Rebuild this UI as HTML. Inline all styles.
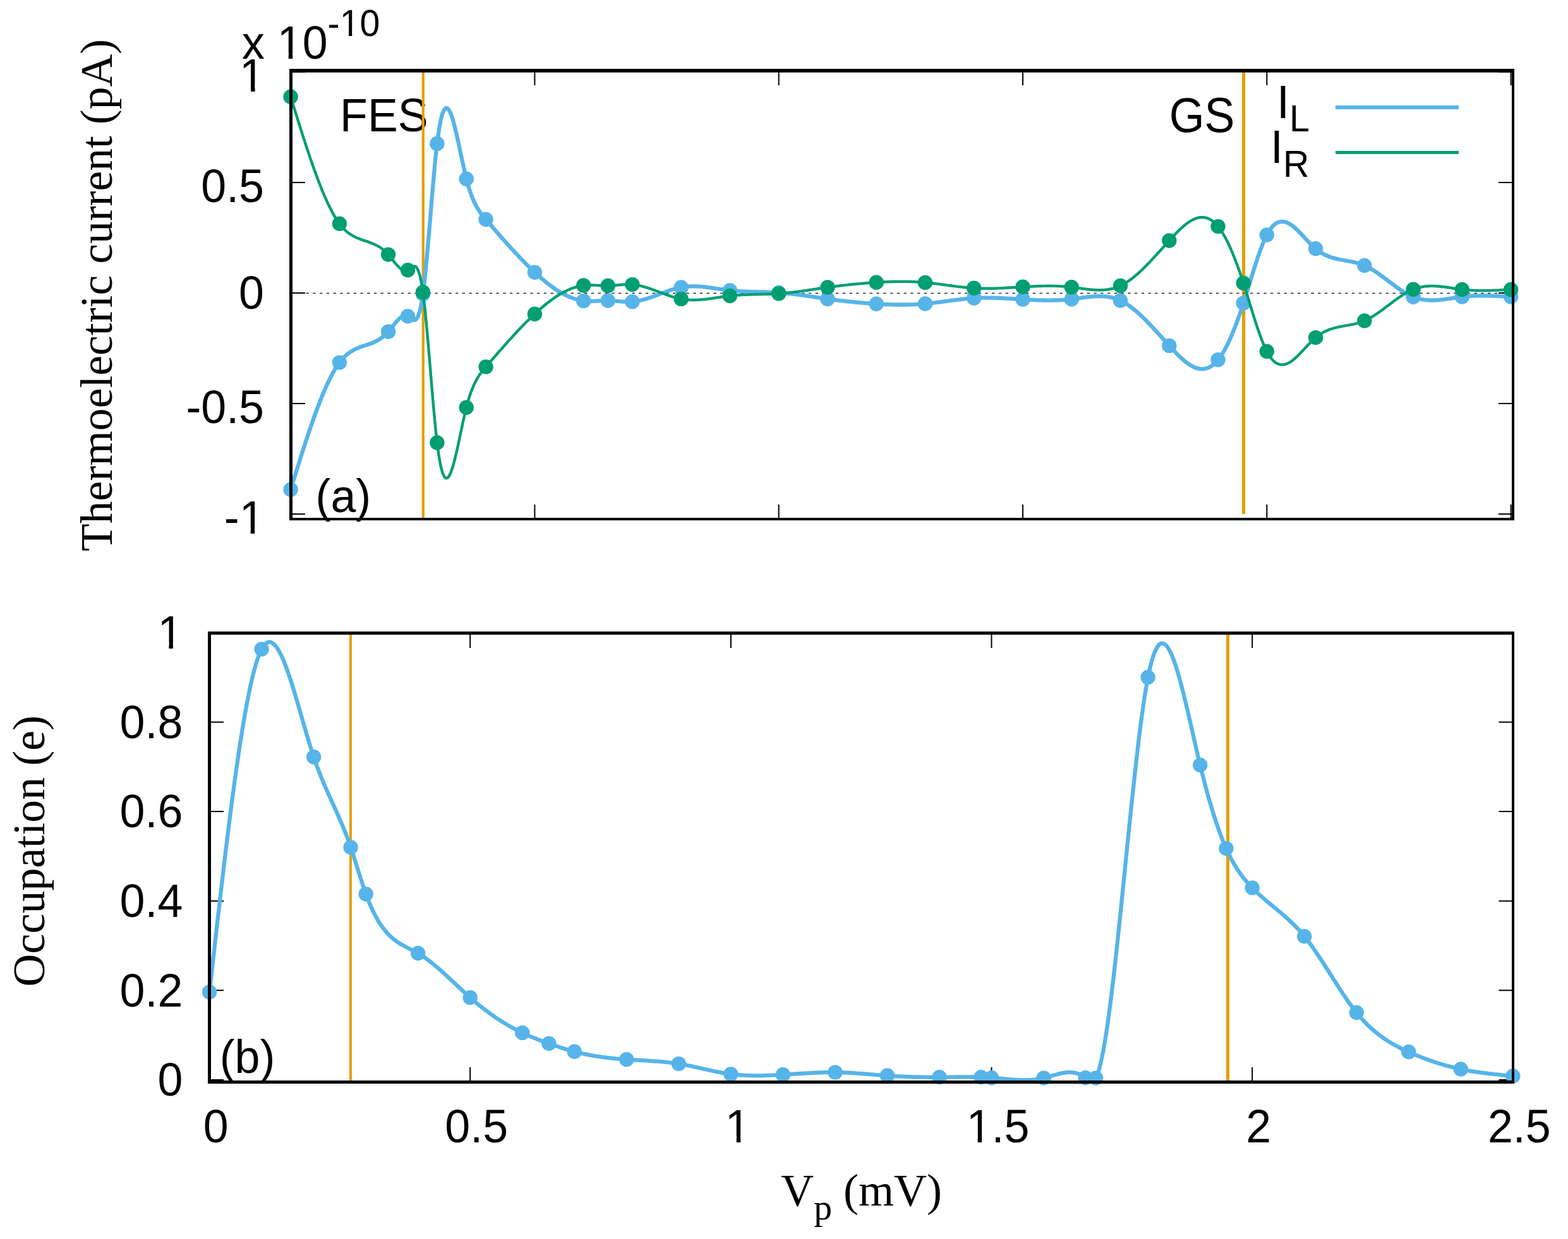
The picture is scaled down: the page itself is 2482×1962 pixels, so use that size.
<!DOCTYPE html><html><head><meta charset="utf-8"><title>Thermoelectric current and occupation</title>
<style>html,body{margin:0;padding:0;background:#fff;overflow:hidden}svg{display:block}text{fill:#000}.s{font-family:"Liberation Sans",sans-serif}.r{font-family:"Liberation Serif",serif}</style></head><body>
<svg width="2482" height="1962" viewBox="0 0 2482 1962" role="img" aria-label="Thermoelectric current and occupation versus plunger gate voltage">
<defs><clipPath id="k5" clipPathUnits="userSpaceOnUse"><path clip-rule="evenodd" d="M-3000,-3000H3000V3000H-3000Z M-42.12,-9.67H-22.74V3.72H-42.12Z M-15.97,-9.67H1.03V3.72H-15.97Z"/></clipPath><clipPath id="k9" clipPathUnits="userSpaceOnUse"><path clip-rule="evenodd" d="M-3000,-3000H3000V3000H-3000Z M-42.12,-9.67H-22.74V3.72H-42.12Z M-15.97,-9.67H1.03V3.72H-15.97Z"/></clipPath><clipPath id="k10" clipPathUnits="userSpaceOnUse"><path clip-rule="evenodd" d="M-3000,-3000H3000V3000H-3000Z M57.12,-9.67H76.50V3.72H57.12Z M83.27,-9.67H100.27V3.72H83.27Z M159.83,-43.23H175.33V-32.52H159.83Z M180.74,-43.23H194.34V-32.52H180.74Z"/></clipPath><clipPath id="k18" clipPathUnits="userSpaceOnUse"><path clip-rule="evenodd" d="M-3000,-3000H3000V3000H-3000Z M-42.12,-9.67H-22.74V3.72H-42.12Z M-15.97,-9.67H1.03V3.72H-15.97Z"/></clipPath><clipPath id="k21" clipPathUnits="userSpaceOnUse"><path clip-rule="evenodd" d="M-3000,-3000H3000V3000H-3000Z M-21.43,-9.67H-2.05V3.72H-21.43Z M4.72,-9.67H21.72V3.72H4.72Z"/></clipPath><clipPath id="k22" clipPathUnits="userSpaceOnUse"><path clip-rule="evenodd" d="M-3000,-3000H3000V3000H-3000Z M-52.46,-9.67H-33.07V3.72H-52.46Z M-26.30,-9.67H-9.30V3.72H-26.30Z"/></clipPath></defs>
<rect width="2482" height="1962" fill="#fff"/>
<g id="top">
<text class="s" transform="translate(538.1,208.0) scale(0.964,1)" font-size="74.4" text-anchor="start">FES</text>
<text class="s" transform="translate(1850.8,208.8) scale(0.964,1.045)" font-size="74.4">GS</text>
<text class="s" transform="translate(499.5,810.5) scale(0.964,1)" font-size="74.4" text-anchor="start">(a)</text>
<line x1="669.8" y1="114" x2="669.8" y2="822" stroke="#E69F00" stroke-width="4.2"/>
<line x1="1968.5" y1="114" x2="1968.5" y2="814.1" stroke="#E69F00" stroke-width="5.1"/>
<line x1="463" y1="464.3" x2="2393" y2="464.3" stroke="#000" stroke-width="1.2" stroke-dasharray="4.3 6.45"/>
<path d="M846.4,114V135 M846.4,822V799 M1232.7,114V135 M1232.7,822V799 M1619.0,114V135 M1619.0,822V799 M2005.3,114V135 M2005.3,822V799 M2391.6,114V135 M2391.6,822V799 M460.5,114.1H483 M2395,114.1H2372 M460.5,289.1H483 M2395,289.1H2372 M460.5,464.0H483 M2395,464.0H2372 M460.5,639.0H483 M2395,639.0H2372 M460.5,813.9H483 M2395,813.9H2372" stroke="#000" stroke-width="2" fill="none"/>
<path d="M460.1,775.2 L462.9,766.3 L465.6,757.3 L468.4,748.4 L471.2,739.6 L473.9,730.8 L476.7,722.0 L479.4,713.4 L482.2,704.8 L485.0,696.3 L487.7,688.0 L490.5,679.8 L493.3,671.7 L496.0,663.9 L498.8,656.1 L501.5,648.6 L504.3,641.3 L507.1,634.2 L509.8,627.3 L512.6,620.6 L515.4,614.2 L518.1,608.1 L520.9,602.3 L523.7,596.8 L526.4,591.5 L529.2,586.6 L531.9,582.0 L534.7,577.8 L537.5,574.0 L540.2,570.5 L543.0,567.3 L545.8,564.5 L548.5,562.0 L551.3,559.7 L554.0,557.7 L556.8,556.0 L559.6,554.4 L562.3,553.0 L565.1,551.7 L567.9,550.6 L570.6,549.5 L573.4,548.5 L576.2,547.6 L578.9,546.7 L581.7,545.8 L584.4,544.8 L587.2,543.8 L590.0,542.7 L592.7,541.5 L595.5,540.2 L598.3,538.7 L601.0,537.1 L603.8,535.2 L606.6,533.1 L609.3,530.7 L612.1,528.0 L614.8,525.1 L617.6,521.8 L620.4,518.3 L623.1,514.8 L625.9,511.3 L628.7,508.1 L631.4,505.2 L634.2,502.8 L636.9,501.0 L639.7,499.9 L642.5,499.7 L645.2,500.6 L648.0,502.4 L650.8,504.6 L653.5,506.5 L656.3,507.0 L659.1,505.4 L661.8,500.8 L664.6,492.5 L667.3,479.4 L670.1,461.0 L672.9,436.8 L675.6,408.3 L678.4,376.8 L681.2,343.8 L683.9,310.6 L686.7,278.8 L689.4,249.6 L692.2,224.7 L695.0,204.8 L697.7,190.0 L700.5,179.6 L703.3,173.5 L706.0,171.0 L708.8,171.9 L711.6,175.8 L714.3,182.1 L717.1,190.6 L719.8,200.8 L722.6,212.4 L725.4,224.8 L728.1,237.8 L730.9,250.9 L733.7,263.7 L736.4,275.8 L739.2,286.8 L741.9,296.6 L744.7,305.1 L747.5,312.5 L750.2,319.0 L753.0,324.7 L755.8,329.7 L758.5,334.0 L761.3,337.9 L764.1,341.5 L766.8,344.8 L769.6,348.0 L772.3,351.2 L775.1,354.4 L777.9,357.6 L780.6,360.8 L783.4,364.0 L786.2,367.2 L788.9,370.4 L791.7,373.5 L794.5,376.7 L797.2,379.8 L800.0,382.9 L802.7,386.0 L805.5,389.1 L808.3,392.1 L811.0,395.2 L813.8,398.2 L816.6,401.1 L819.3,404.1 L822.1,407.0 L824.8,409.9 L827.6,412.8 L830.4,415.6 L833.1,418.4 L835.9,421.1 L838.7,423.8 L841.4,426.5 L844.2,429.1 L847.0,431.7 L849.7,434.3 L852.5,436.7 L855.2,439.2 L858.0,441.6 L860.8,443.9 L863.5,446.2 L866.3,448.4 L869.1,450.5 L871.8,452.6 L874.6,454.6 L877.3,456.6 L880.1,458.5 L882.9,460.3 L885.6,462.0 L888.4,463.6 L891.2,465.2 L893.9,466.6 L896.7,468.0 L899.5,469.3 L902.2,470.5 L905.0,471.6 L907.7,472.6 L910.5,473.5 L913.3,474.3 L916.0,475.0 L918.8,475.6 L921.6,476.1 L924.3,476.5 L927.1,476.7 L929.8,476.9 L932.6,477.0 L935.4,477.0 L938.1,476.9 L940.9,476.8 L943.7,476.7 L946.4,476.5 L949.2,476.4 L952.0,476.2 L954.7,476.1 L957.5,476.0 L960.2,476.0 L963.0,476.0 L965.8,476.1 L968.5,476.3 L971.3,476.5 L974.1,476.7 L976.8,476.9 L979.6,477.2 L982.4,477.4 L985.1,477.6 L987.9,477.8 L990.6,477.9 L993.4,478.0 L996.2,478.0 L998.9,477.9 L1001.7,477.7 L1004.5,477.4 L1007.2,477.1 L1010.0,476.6 L1012.7,476.0 L1015.5,475.3 L1018.3,474.6 L1021.0,473.8 L1023.8,473.0 L1026.6,472.1 L1029.3,471.2 L1032.1,470.2 L1034.9,469.2 L1037.6,468.2 L1040.4,467.1 L1043.1,466.1 L1045.9,465.0 L1048.7,464.0 L1051.4,462.9 L1054.2,461.9 L1057.0,460.9 L1059.7,460.0 L1062.5,459.1 L1065.2,458.2 L1068.0,457.4 L1070.8,456.6 L1073.5,456.0 L1076.3,455.4 L1079.1,454.8 L1081.8,454.4 L1084.6,454.1 L1087.4,453.8 L1090.1,453.6 L1092.9,453.5 L1095.6,453.4 L1098.4,453.4 L1101.2,453.4 L1103.9,453.5 L1106.7,453.7 L1109.5,453.9 L1112.2,454.1 L1115.0,454.4 L1117.7,454.7 L1120.5,455.1 L1123.3,455.4 L1126.0,455.8 L1128.8,456.2 L1131.6,456.6 L1134.3,457.0 L1137.1,457.4 L1139.9,457.8 L1142.6,458.2 L1145.4,458.6 L1148.1,459.0 L1150.9,459.4 L1153.7,459.7 L1156.4,460.0 L1159.2,460.3 L1162.0,460.5 L1164.7,460.8 L1167.5,461.0 L1170.3,461.2 L1173.0,461.3 L1175.8,461.5 L1178.5,461.6 L1181.3,461.7 L1184.1,461.8 L1186.8,461.9 L1189.6,462.0 L1192.4,462.1 L1195.1,462.1 L1197.9,462.2 L1200.6,462.3 L1203.4,462.3 L1206.2,462.4 L1208.9,462.5 L1211.7,462.5 L1214.5,462.6 L1217.2,462.7 L1220.0,462.8 L1222.8,462.9 L1225.5,463.1 L1228.3,463.2 L1231.0,463.4 L1233.8,463.6 L1236.6,463.8 L1239.3,464.0 L1242.1,464.3 L1244.9,464.5 L1247.6,464.8 L1250.4,465.1 L1253.1,465.4 L1255.9,465.7 L1258.7,466.1 L1261.4,466.4 L1264.2,466.8 L1267.0,467.2 L1269.7,467.5 L1272.5,467.9 L1275.3,468.3 L1278.0,468.7 L1280.8,469.1 L1283.5,469.5 L1286.3,469.9 L1289.1,470.4 L1291.8,470.8 L1294.6,471.2 L1297.4,471.6 L1300.1,472.0 L1302.9,472.4 L1305.6,472.8 L1308.4,473.2 L1311.2,473.6 L1313.9,473.9 L1316.7,474.3 L1319.5,474.7 L1322.2,475.0 L1325.0,475.4 L1327.8,475.7 L1330.5,476.1 L1333.3,476.4 L1336.0,476.7 L1338.8,477.0 L1341.6,477.3 L1344.3,477.6 L1347.1,477.9 L1349.9,478.2 L1352.6,478.5 L1355.4,478.7 L1358.2,479.0 L1360.9,479.2 L1363.7,479.5 L1366.4,479.7 L1369.2,479.9 L1372.0,480.1 L1374.7,480.4 L1377.5,480.6 L1380.3,480.7 L1383.0,480.9 L1385.8,481.1 L1388.5,481.3 L1391.3,481.4 L1394.1,481.6 L1396.8,481.7 L1399.6,481.9 L1402.4,482.0 L1405.1,482.1 L1407.9,482.2 L1410.7,482.3 L1413.4,482.4 L1416.2,482.4 L1418.9,482.5 L1421.7,482.5 L1424.5,482.5 L1427.2,482.5 L1430.0,482.5 L1432.8,482.5 L1435.5,482.5 L1438.3,482.4 L1441.0,482.4 L1443.8,482.3 L1446.6,482.2 L1449.3,482.0 L1452.1,481.9 L1454.9,481.7 L1457.6,481.5 L1460.4,481.3 L1463.2,481.1 L1465.9,480.9 L1468.7,480.6 L1471.4,480.3 L1474.2,480.0 L1477.0,479.7 L1479.7,479.4 L1482.5,479.0 L1485.3,478.7 L1488.0,478.3 L1490.8,477.9 L1493.5,477.6 L1496.3,477.2 L1499.1,476.8 L1501.8,476.4 L1504.6,476.1 L1507.4,475.7 L1510.1,475.3 L1512.9,475.0 L1515.7,474.6 L1518.4,474.3 L1521.2,474.0 L1523.9,473.6 L1526.7,473.4 L1529.5,473.1 L1532.2,472.8 L1535.0,472.6 L1537.8,472.4 L1540.5,472.2 L1543.3,472.0 L1546.1,471.9 L1548.8,471.8 L1551.6,471.7 L1554.3,471.6 L1557.1,471.6 L1559.9,471.6 L1562.6,471.6 L1565.4,471.6 L1568.2,471.6 L1570.9,471.7 L1573.7,471.7 L1576.4,471.8 L1579.2,471.9 L1582.0,472.0 L1584.7,472.1 L1587.5,472.3 L1590.3,472.4 L1593.0,472.6 L1595.8,472.7 L1598.6,472.9 L1601.3,473.0 L1604.1,473.2 L1606.8,473.4 L1609.6,473.5 L1612.4,473.7 L1615.1,473.9 L1617.9,474.0 L1620.7,474.2 L1623.4,474.4 L1626.2,474.5 L1628.9,474.7 L1631.7,474.8 L1634.5,474.9 L1637.2,475.0 L1640.0,475.2 L1642.8,475.3 L1645.5,475.4 L1648.3,475.4 L1651.1,475.5 L1653.8,475.5 L1656.6,475.6 L1659.3,475.6 L1662.1,475.6 L1664.9,475.6 L1667.6,475.5 L1670.4,475.5 L1673.2,475.4 L1675.9,475.3 L1678.7,475.1 L1681.4,475.0 L1684.2,474.8 L1687.0,474.6 L1689.7,474.4 L1692.5,474.1 L1695.3,473.8 L1698.0,473.5 L1700.8,473.1 L1703.6,472.8 L1706.3,472.4 L1709.1,472.0 L1711.8,471.6 L1714.6,471.2 L1717.4,470.9 L1720.1,470.5 L1722.9,470.2 L1725.7,469.9 L1728.4,469.6 L1731.2,469.4 L1734.0,469.2 L1736.7,469.1 L1739.5,469.0 L1742.2,469.1 L1745.0,469.1 L1747.8,469.3 L1750.5,469.6 L1753.3,469.9 L1756.1,470.4 L1758.8,470.9 L1761.6,471.6 L1764.3,472.4 L1767.1,473.3 L1769.9,474.3 L1772.6,475.5 L1775.4,476.8 L1778.2,478.3 L1780.9,479.9 L1783.7,481.6 L1786.5,483.5 L1789.2,485.4 L1792.0,487.5 L1794.7,489.7 L1797.5,492.0 L1800.3,494.4 L1803.0,496.8 L1805.8,499.4 L1808.6,502.0 L1811.3,504.7 L1814.1,507.5 L1816.8,510.3 L1819.6,513.2 L1822.4,516.1 L1825.1,519.1 L1827.9,522.1 L1830.7,525.1 L1833.4,528.1 L1836.2,531.2 L1839.0,534.3 L1841.7,537.3 L1844.5,540.4 L1847.2,543.5 L1850.0,546.5 L1852.8,549.6 L1855.5,552.6 L1858.3,555.5 L1861.1,558.4 L1863.8,561.3 L1866.6,564.0 L1869.3,566.6 L1872.1,569.1 L1874.9,571.5 L1877.6,573.7 L1880.4,575.7 L1883.2,577.6 L1885.9,579.3 L1888.7,580.7 L1891.5,582.0 L1894.2,582.9 L1897.0,583.7 L1899.7,584.1 L1902.5,584.3 L1905.3,584.2 L1908.0,583.8 L1910.8,583.0 L1913.6,581.9 L1916.3,580.4 L1919.1,578.6 L1921.9,576.3 L1924.6,573.7 L1927.4,570.6 L1930.1,567.1 L1932.9,563.2 L1935.7,558.8 L1938.4,554.1 L1941.2,548.9 L1944.0,543.4 L1946.7,537.5 L1949.5,531.2 L1952.2,524.6 L1955.0,517.6 L1957.8,510.4 L1960.5,502.8 L1963.3,494.9 L1966.1,486.7 L1968.8,478.2 L1971.6,469.5 L1974.4,460.6 L1977.1,451.6 L1979.9,442.6 L1982.6,433.6 L1985.4,424.8 L1988.2,416.1 L1990.9,407.8 L1993.7,399.8 L1996.5,392.3 L1999.2,385.2 L2002.0,378.8 L2004.7,373.0 L2007.5,367.9 L2010.3,363.6 L2013.0,360.0 L2015.8,357.0 L2018.6,354.6 L2021.3,352.9 L2024.1,351.7 L2026.9,351.0 L2029.6,350.8 L2032.4,351.1 L2035.1,351.8 L2037.9,352.8 L2040.7,354.2 L2043.4,355.9 L2046.2,357.9 L2049.0,360.2 L2051.7,362.6 L2054.5,365.2 L2057.2,368.0 L2060.0,370.9 L2062.8,373.8 L2065.5,376.8 L2068.3,379.8 L2071.1,382.7 L2073.8,385.6 L2076.6,388.3 L2079.4,391.0 L2082.1,393.4 L2084.9,395.7 L2087.6,397.7 L2090.4,399.6 L2093.2,401.3 L2095.9,402.8 L2098.7,404.1 L2101.5,405.4 L2104.2,406.5 L2107.0,407.4 L2109.8,408.3 L2112.5,409.1 L2115.3,409.8 L2118.0,410.4 L2120.8,411.0 L2123.6,411.5 L2126.3,412.0 L2129.1,412.5 L2131.9,413.0 L2134.6,413.5 L2137.4,414.0 L2140.1,414.5 L2142.9,415.1 L2145.7,415.8 L2148.4,416.5 L2151.2,417.3 L2154.0,418.2 L2156.7,419.1 L2159.5,420.3 L2162.3,421.5 L2165.0,422.9 L2167.8,424.3 L2170.5,425.9 L2173.3,427.6 L2176.1,429.4 L2178.8,431.2 L2181.6,433.1 L2184.4,435.1 L2187.1,437.1 L2189.9,439.1 L2192.6,441.2 L2195.4,443.3 L2198.2,445.4 L2200.9,447.4 L2203.7,449.5 L2206.5,451.6 L2209.2,453.6 L2212.0,455.6 L2214.8,457.6 L2217.5,459.4 L2220.3,461.2 L2223.0,463.0 L2225.8,464.6 L2228.6,466.2 L2231.3,467.6 L2234.1,468.9 L2236.9,470.1 L2239.6,471.2 L2242.4,472.1 L2245.1,472.9 L2247.9,473.6 L2250.7,474.1 L2253.4,474.6 L2256.2,475.0 L2259.0,475.2 L2261.7,475.4 L2264.5,475.5 L2267.3,475.5 L2270.0,475.4 L2272.8,475.3 L2275.5,475.1 L2278.3,474.9 L2281.1,474.6 L2283.8,474.3 L2286.6,474.0 L2289.4,473.6 L2292.1,473.2 L2294.9,472.8 L2297.7,472.4 L2300.4,471.9 L2303.2,471.5 L2305.9,471.1 L2308.7,470.7 L2311.5,470.4 L2314.2,470.0 L2317.0,469.7 L2319.8,469.4 L2322.5,469.2 L2325.3,469.0 L2328.0,468.8 L2330.8,468.6 L2333.6,468.5 L2336.3,468.4 L2339.1,468.3 L2341.9,468.3 L2344.6,468.3 L2347.4,468.3 L2350.2,468.3 L2352.9,468.3 L2355.7,468.3 L2358.4,468.4 L2361.2,468.5 L2364.0,468.6 L2366.7,468.7 L2369.5,468.8 L2372.3,468.9 L2375.0,469.1 L2377.8,469.2 L2380.5,469.4 L2383.3,469.5 L2386.1,469.7 L2388.8,469.8 L2391.6,470.0" fill="none" stroke="#56B4E9" stroke-width="6.3" stroke-linejoin="round"/>
<g fill="#56B4E9"><circle cx="460.1" cy="775.2" r="11.7"/><circle cx="537.4" cy="574.1" r="11.7"/><circle cx="614.6" cy="525.3" r="11.7"/><circle cx="645.5" cy="500.7" r="11.7"/><circle cx="669.5" cy="465.7" r="11.7"/><circle cx="691.9" cy="227.4" r="11.7"/><circle cx="738.2" cy="283.2" r="11.7"/><circle cx="769.1" cy="347.5" r="11.7"/><circle cx="846.4" cy="431.2" r="11.7"/><circle cx="923.7" cy="476.4" r="11.7"/><circle cx="962.3" cy="476.0" r="11.7"/><circle cx="1000.9" cy="477.8" r="11.7"/><circle cx="1078.2" cy="455.0" r="11.7"/><circle cx="1155.4" cy="459.9" r="11.7"/><circle cx="1232.7" cy="463.5" r="11.7"/><circle cx="1310.0" cy="473.4" r="11.7"/><circle cx="1387.2" cy="481.2" r="11.7"/><circle cx="1464.5" cy="481.0" r="11.7"/><circle cx="1541.7" cy="472.1" r="11.7"/><circle cx="1619.0" cy="474.1" r="11.7"/><circle cx="1696.3" cy="473.7" r="11.7"/><circle cx="1773.5" cy="475.9" r="11.7"/><circle cx="1850.8" cy="547.4" r="11.7"/><circle cx="1928.0" cy="569.8" r="11.7"/><circle cx="1968.2" cy="480.1" r="11.7"/><circle cx="2005.3" cy="371.9" r="11.7"/><circle cx="2082.6" cy="393.8" r="11.7"/><circle cx="2159.8" cy="420.4" r="11.7"/><circle cx="2237.1" cy="470.2" r="11.7"/><circle cx="2314.3" cy="470.0" r="11.7"/><circle cx="2391.6" cy="470.0" r="11.7"/></g>
<path d="M460.1,153.2 L462.9,162.1 L465.6,171.1 L468.4,180.0 L471.2,188.8 L473.9,197.6 L476.7,206.4 L479.4,215.0 L482.2,223.6 L485.0,232.1 L487.7,240.4 L490.5,248.6 L493.3,256.7 L496.0,264.5 L498.8,272.3 L501.5,279.8 L504.3,287.1 L507.1,294.2 L509.8,301.1 L512.6,307.8 L515.4,314.2 L518.1,320.3 L520.9,326.1 L523.7,331.6 L526.4,336.9 L529.2,341.8 L531.9,346.4 L534.7,350.6 L537.5,354.4 L540.2,357.9 L543.0,361.1 L545.8,363.9 L548.5,366.4 L551.3,368.7 L554.0,370.7 L556.8,372.4 L559.6,374.0 L562.3,375.4 L565.1,376.7 L567.9,377.8 L570.6,378.9 L573.4,379.9 L576.2,380.8 L578.9,381.7 L581.7,382.6 L584.4,383.6 L587.2,384.6 L590.0,385.7 L592.7,386.9 L595.5,388.2 L598.3,389.7 L601.0,391.3 L603.8,393.2 L606.6,395.3 L609.3,397.7 L612.1,400.4 L614.8,403.3 L617.6,406.6 L620.4,410.1 L623.1,413.6 L625.9,417.1 L628.7,420.3 L631.4,423.2 L634.2,425.6 L636.9,427.4 L639.7,428.5 L642.5,428.7 L645.2,427.8 L648.0,426.0 L650.8,423.8 L653.5,421.9 L656.3,421.4 L659.1,423.0 L661.8,427.6 L664.6,435.9 L667.3,449.0 L670.1,467.4 L672.9,491.6 L675.6,520.1 L678.4,551.6 L681.2,584.6 L683.9,617.8 L686.7,649.6 L689.4,678.8 L692.2,703.7 L695.0,723.6 L697.7,738.4 L700.5,748.8 L703.3,754.9 L706.0,757.4 L708.8,756.5 L711.6,752.6 L714.3,746.3 L717.1,737.8 L719.8,727.6 L722.6,716.0 L725.4,703.6 L728.1,690.6 L730.9,677.5 L733.7,664.7 L736.4,652.6 L739.2,641.6 L741.9,631.8 L744.7,623.3 L747.5,615.9 L750.2,609.4 L753.0,603.7 L755.8,598.7 L758.5,594.4 L761.3,590.5 L764.1,586.9 L766.8,583.6 L769.6,580.4 L772.3,577.2 L775.1,574.0 L777.9,570.8 L780.6,567.6 L783.4,564.4 L786.2,561.2 L788.9,558.0 L791.7,554.9 L794.5,551.7 L797.2,548.6 L800.0,545.5 L802.7,542.4 L805.5,539.3 L808.3,536.3 L811.0,533.2 L813.8,530.2 L816.6,527.3 L819.3,524.3 L822.1,521.4 L824.8,518.5 L827.6,515.6 L830.4,512.8 L833.1,510.0 L835.9,507.3 L838.7,504.6 L841.4,501.9 L844.2,499.3 L847.0,496.7 L849.7,494.1 L852.5,491.7 L855.2,489.2 L858.0,486.8 L860.8,484.5 L863.5,482.2 L866.3,480.0 L869.1,477.9 L871.8,475.8 L874.6,473.8 L877.3,471.8 L880.1,469.9 L882.9,468.1 L885.6,466.4 L888.4,464.8 L891.2,463.2 L893.9,461.8 L896.7,460.4 L899.5,459.1 L902.2,457.9 L905.0,456.8 L907.7,455.8 L910.5,454.9 L913.3,454.1 L916.0,453.4 L918.8,452.8 L921.6,452.3 L924.3,451.9 L927.1,451.7 L929.8,451.5 L932.6,451.4 L935.4,451.4 L938.1,451.5 L940.9,451.6 L943.7,451.7 L946.4,451.9 L949.2,452.0 L952.0,452.2 L954.7,452.3 L957.5,452.4 L960.2,452.4 L963.0,452.4 L965.8,452.3 L968.5,452.1 L971.3,451.9 L974.1,451.7 L976.8,451.5 L979.6,451.2 L982.4,451.0 L985.1,450.8 L987.9,450.6 L990.6,450.5 L993.4,450.4 L996.2,450.4 L998.9,450.5 L1001.7,450.7 L1004.5,451.0 L1007.2,451.3 L1010.0,451.8 L1012.7,452.4 L1015.5,453.1 L1018.3,453.8 L1021.0,454.6 L1023.8,455.4 L1026.6,456.3 L1029.3,457.2 L1032.1,458.2 L1034.9,459.2 L1037.6,460.2 L1040.4,461.3 L1043.1,462.3 L1045.9,463.4 L1048.7,464.4 L1051.4,465.5 L1054.2,466.5 L1057.0,467.5 L1059.7,468.4 L1062.5,469.3 L1065.2,470.2 L1068.0,471.0 L1070.8,471.8 L1073.5,472.4 L1076.3,473.0 L1079.1,473.6 L1081.8,474.0 L1084.6,474.3 L1087.4,474.6 L1090.1,474.8 L1092.9,474.9 L1095.6,475.0 L1098.4,475.0 L1101.2,475.0 L1103.9,474.9 L1106.7,474.7 L1109.5,474.5 L1112.2,474.3 L1115.0,474.0 L1117.7,473.7 L1120.5,473.3 L1123.3,473.0 L1126.0,472.6 L1128.8,472.2 L1131.6,471.8 L1134.3,471.4 L1137.1,471.0 L1139.9,470.6 L1142.6,470.2 L1145.4,469.8 L1148.1,469.4 L1150.9,469.0 L1153.7,468.7 L1156.4,468.4 L1159.2,468.1 L1162.0,467.9 L1164.7,467.6 L1167.5,467.4 L1170.3,467.2 L1173.0,467.1 L1175.8,466.9 L1178.5,466.8 L1181.3,466.7 L1184.1,466.6 L1186.8,466.5 L1189.6,466.4 L1192.4,466.3 L1195.1,466.3 L1197.9,466.2 L1200.6,466.1 L1203.4,466.1 L1206.2,466.0 L1208.9,465.9 L1211.7,465.9 L1214.5,465.8 L1217.2,465.7 L1220.0,465.6 L1222.8,465.5 L1225.5,465.3 L1228.3,465.2 L1231.0,465.0 L1233.8,464.8 L1236.6,464.6 L1239.3,464.4 L1242.1,464.1 L1244.9,463.9 L1247.6,463.6 L1250.4,463.3 L1253.1,463.0 L1255.9,462.7 L1258.7,462.3 L1261.4,462.0 L1264.2,461.6 L1267.0,461.2 L1269.7,460.9 L1272.5,460.5 L1275.3,460.1 L1278.0,459.7 L1280.8,459.3 L1283.5,458.9 L1286.3,458.5 L1289.1,458.0 L1291.8,457.6 L1294.6,457.2 L1297.4,456.8 L1300.1,456.4 L1302.9,456.0 L1305.6,455.6 L1308.4,455.2 L1311.2,454.8 L1313.9,454.5 L1316.7,454.1 L1319.5,453.7 L1322.2,453.4 L1325.0,453.0 L1327.8,452.7 L1330.5,452.3 L1333.3,452.0 L1336.0,451.7 L1338.8,451.4 L1341.6,451.1 L1344.3,450.8 L1347.1,450.5 L1349.9,450.2 L1352.6,449.9 L1355.4,449.7 L1358.2,449.4 L1360.9,449.2 L1363.7,448.9 L1366.4,448.7 L1369.2,448.5 L1372.0,448.3 L1374.7,448.0 L1377.5,447.8 L1380.3,447.7 L1383.0,447.5 L1385.8,447.3 L1388.5,447.1 L1391.3,447.0 L1394.1,446.8 L1396.8,446.7 L1399.6,446.5 L1402.4,446.4 L1405.1,446.3 L1407.9,446.2 L1410.7,446.1 L1413.4,446.0 L1416.2,446.0 L1418.9,445.9 L1421.7,445.9 L1424.5,445.9 L1427.2,445.9 L1430.0,445.9 L1432.8,445.9 L1435.5,445.9 L1438.3,446.0 L1441.0,446.0 L1443.8,446.1 L1446.6,446.2 L1449.3,446.4 L1452.1,446.5 L1454.9,446.7 L1457.6,446.9 L1460.4,447.1 L1463.2,447.3 L1465.9,447.5 L1468.7,447.8 L1471.4,448.1 L1474.2,448.4 L1477.0,448.7 L1479.7,449.0 L1482.5,449.4 L1485.3,449.7 L1488.0,450.1 L1490.8,450.5 L1493.5,450.8 L1496.3,451.2 L1499.1,451.6 L1501.8,452.0 L1504.6,452.3 L1507.4,452.7 L1510.1,453.1 L1512.9,453.4 L1515.7,453.8 L1518.4,454.1 L1521.2,454.4 L1523.9,454.8 L1526.7,455.0 L1529.5,455.3 L1532.2,455.6 L1535.0,455.8 L1537.8,456.0 L1540.5,456.2 L1543.3,456.4 L1546.1,456.5 L1548.8,456.6 L1551.6,456.7 L1554.3,456.8 L1557.1,456.8 L1559.9,456.8 L1562.6,456.8 L1565.4,456.8 L1568.2,456.8 L1570.9,456.7 L1573.7,456.7 L1576.4,456.6 L1579.2,456.5 L1582.0,456.4 L1584.7,456.3 L1587.5,456.1 L1590.3,456.0 L1593.0,455.8 L1595.8,455.7 L1598.6,455.5 L1601.3,455.4 L1604.1,455.2 L1606.8,455.0 L1609.6,454.9 L1612.4,454.7 L1615.1,454.5 L1617.9,454.4 L1620.7,454.2 L1623.4,454.0 L1626.2,453.9 L1628.9,453.7 L1631.7,453.6 L1634.5,453.5 L1637.2,453.4 L1640.0,453.2 L1642.8,453.1 L1645.5,453.0 L1648.3,453.0 L1651.1,452.9 L1653.8,452.9 L1656.6,452.8 L1659.3,452.8 L1662.1,452.8 L1664.9,452.8 L1667.6,452.9 L1670.4,452.9 L1673.2,453.0 L1675.9,453.1 L1678.7,453.3 L1681.4,453.4 L1684.2,453.6 L1687.0,453.8 L1689.7,454.0 L1692.5,454.3 L1695.3,454.6 L1698.0,454.9 L1700.8,455.3 L1703.6,455.6 L1706.3,456.0 L1709.1,456.4 L1711.8,456.8 L1714.6,457.2 L1717.4,457.5 L1720.1,457.9 L1722.9,458.2 L1725.7,458.5 L1728.4,458.8 L1731.2,459.0 L1734.0,459.2 L1736.7,459.3 L1739.5,459.4 L1742.2,459.3 L1745.0,459.3 L1747.8,459.1 L1750.5,458.8 L1753.3,458.5 L1756.1,458.0 L1758.8,457.5 L1761.6,456.8 L1764.3,456.0 L1767.1,455.1 L1769.9,454.1 L1772.6,452.9 L1775.4,451.6 L1778.2,450.1 L1780.9,448.5 L1783.7,446.8 L1786.5,444.9 L1789.2,443.0 L1792.0,440.9 L1794.7,438.7 L1797.5,436.4 L1800.3,434.0 L1803.0,431.6 L1805.8,429.0 L1808.6,426.4 L1811.3,423.7 L1814.1,420.9 L1816.8,418.1 L1819.6,415.2 L1822.4,412.3 L1825.1,409.3 L1827.9,406.3 L1830.7,403.3 L1833.4,400.3 L1836.2,397.2 L1839.0,394.1 L1841.7,391.1 L1844.5,388.0 L1847.2,384.9 L1850.0,381.9 L1852.8,378.8 L1855.5,375.8 L1858.3,372.9 L1861.1,370.0 L1863.8,367.1 L1866.6,364.4 L1869.3,361.8 L1872.1,359.3 L1874.9,356.9 L1877.6,354.7 L1880.4,352.7 L1883.2,350.8 L1885.9,349.1 L1888.7,347.7 L1891.5,346.4 L1894.2,345.5 L1897.0,344.7 L1899.7,344.3 L1902.5,344.1 L1905.3,344.2 L1908.0,344.6 L1910.8,345.4 L1913.6,346.5 L1916.3,348.0 L1919.1,349.8 L1921.9,352.1 L1924.6,354.7 L1927.4,357.8 L1930.1,361.3 L1932.9,365.2 L1935.7,369.6 L1938.4,374.3 L1941.2,379.5 L1944.0,385.0 L1946.7,390.9 L1949.5,397.2 L1952.2,403.8 L1955.0,410.8 L1957.8,418.0 L1960.5,425.6 L1963.3,433.5 L1966.1,441.7 L1968.8,450.2 L1971.6,458.9 L1974.4,467.8 L1977.1,476.8 L1979.9,485.8 L1982.6,494.8 L1985.4,503.6 L1988.2,512.3 L1990.9,520.6 L1993.7,528.6 L1996.5,536.1 L1999.2,543.2 L2002.0,549.6 L2004.7,555.4 L2007.5,560.5 L2010.3,564.8 L2013.0,568.4 L2015.8,571.4 L2018.6,573.8 L2021.3,575.5 L2024.1,576.7 L2026.9,577.4 L2029.6,577.6 L2032.4,577.3 L2035.1,576.6 L2037.9,575.6 L2040.7,574.2 L2043.4,572.5 L2046.2,570.5 L2049.0,568.2 L2051.7,565.8 L2054.5,563.2 L2057.2,560.4 L2060.0,557.5 L2062.8,554.6 L2065.5,551.6 L2068.3,548.6 L2071.1,545.7 L2073.8,542.8 L2076.6,540.1 L2079.4,537.4 L2082.1,535.0 L2084.9,532.7 L2087.6,530.7 L2090.4,528.8 L2093.2,527.1 L2095.9,525.6 L2098.7,524.3 L2101.5,523.0 L2104.2,521.9 L2107.0,521.0 L2109.8,520.1 L2112.5,519.3 L2115.3,518.6 L2118.0,518.0 L2120.8,517.4 L2123.6,516.9 L2126.3,516.4 L2129.1,515.9 L2131.9,515.4 L2134.6,514.9 L2137.4,514.4 L2140.1,513.9 L2142.9,513.3 L2145.7,512.6 L2148.4,511.9 L2151.2,511.1 L2154.0,510.2 L2156.7,509.3 L2159.5,508.1 L2162.3,506.9 L2165.0,505.5 L2167.8,504.1 L2170.5,502.5 L2173.3,500.8 L2176.1,499.0 L2178.8,497.2 L2181.6,495.3 L2184.4,493.3 L2187.1,491.3 L2189.9,489.3 L2192.6,487.2 L2195.4,485.1 L2198.2,483.0 L2200.9,481.0 L2203.7,478.9 L2206.5,476.8 L2209.2,474.8 L2212.0,472.8 L2214.8,470.8 L2217.5,469.0 L2220.3,467.2 L2223.0,465.4 L2225.8,463.8 L2228.6,462.2 L2231.3,460.8 L2234.1,459.5 L2236.9,458.3 L2239.6,457.2 L2242.4,456.3 L2245.1,455.5 L2247.9,454.8 L2250.7,454.3 L2253.4,453.8 L2256.2,453.4 L2259.0,453.2 L2261.7,453.0 L2264.5,452.9 L2267.3,452.9 L2270.0,453.0 L2272.8,453.1 L2275.5,453.3 L2278.3,453.5 L2281.1,453.8 L2283.8,454.1 L2286.6,454.4 L2289.4,454.8 L2292.1,455.2 L2294.9,455.6 L2297.7,456.0 L2300.4,456.5 L2303.2,456.9 L2305.9,457.3 L2308.7,457.7 L2311.5,458.0 L2314.2,458.4 L2317.0,458.7 L2319.8,459.0 L2322.5,459.2 L2325.3,459.4 L2328.0,459.6 L2330.8,459.8 L2333.6,459.9 L2336.3,460.0 L2339.1,460.1 L2341.9,460.1 L2344.6,460.1 L2347.4,460.1 L2350.2,460.1 L2352.9,460.1 L2355.7,460.1 L2358.4,460.0 L2361.2,459.9 L2364.0,459.8 L2366.7,459.7 L2369.5,459.6 L2372.3,459.5 L2375.0,459.3 L2377.8,459.2 L2380.5,459.0 L2383.3,458.9 L2386.1,458.7 L2388.8,458.6 L2391.6,458.4" fill="none" stroke="#009E73" stroke-width="4.4" stroke-linejoin="round"/>
<g fill="#009E73"><circle cx="460.1" cy="153.2" r="11.7"/><circle cx="537.4" cy="354.3" r="11.7"/><circle cx="614.6" cy="403.1" r="11.7"/><circle cx="645.5" cy="427.7" r="11.7"/><circle cx="669.5" cy="462.7" r="11.7"/><circle cx="691.9" cy="701.0" r="11.7"/><circle cx="738.2" cy="645.2" r="11.7"/><circle cx="769.1" cy="580.9" r="11.7"/><circle cx="846.4" cy="497.2" r="11.7"/><circle cx="923.7" cy="452.0" r="11.7"/><circle cx="962.3" cy="452.4" r="11.7"/><circle cx="1000.9" cy="450.6" r="11.7"/><circle cx="1078.2" cy="473.4" r="11.7"/><circle cx="1155.4" cy="468.5" r="11.7"/><circle cx="1232.7" cy="464.9" r="11.7"/><circle cx="1310.0" cy="455.0" r="11.7"/><circle cx="1387.2" cy="447.2" r="11.7"/><circle cx="1464.5" cy="447.4" r="11.7"/><circle cx="1541.7" cy="456.3" r="11.7"/><circle cx="1619.0" cy="454.3" r="11.7"/><circle cx="1696.3" cy="454.7" r="11.7"/><circle cx="1773.5" cy="452.5" r="11.7"/><circle cx="1850.8" cy="381.0" r="11.7"/><circle cx="1928.0" cy="358.6" r="11.7"/><circle cx="1968.2" cy="448.3" r="11.7"/><circle cx="2005.3" cy="556.5" r="11.7"/><circle cx="2082.6" cy="534.6" r="11.7"/><circle cx="2159.8" cy="508.0" r="11.7"/><circle cx="2237.1" cy="458.2" r="11.7"/><circle cx="2314.3" cy="458.4" r="11.7"/><circle cx="2391.6" cy="458.4" r="11.7"/></g>
<line x1="2114" y1="170" x2="2309" y2="170" stroke="#56B4E9" stroke-width="6"/>
<line x1="2114" y1="241.5" x2="2309" y2="241.5" stroke="#009E73" stroke-width="5"/>
<text class="s" transform="translate(2021,186.8) scale(0.964,1)" font-size="74.4">I<tspan font-size="59.5" dy="21.5">L</tspan></text>
<text class="s" transform="translate(2011,258) scale(0.964,1)" font-size="74.4">I<tspan font-size="59.5" dy="22">R</tspan></text>
<path d="M458,109H2397V824H458Z M463,114.7H2393V820H463Z" fill="#000" fill-rule="evenodd"/>
<text clip-path="url(#k5)" class="s" transform="translate(419.0,145.1) scale(0.964,1)" font-size="74.4" text-anchor="end">1</text>
<text class="s" transform="translate(418.0,320.1) scale(0.964,1)" font-size="74.4" text-anchor="end">0.5</text>
<text class="s" transform="translate(418.0,488.5) scale(0.964,1)" font-size="74.4" text-anchor="end">0</text>
<text class="s" transform="translate(418.0,670.0) scale(0.964,1)" font-size="74.4" text-anchor="end">-0.5</text>
<text clip-path="url(#k9)" class="s" transform="translate(418.6,844.9) scale(0.964,1)" font-size="74.4" text-anchor="end">-1</text>
<text clip-path="url(#k10)" class="s" transform="translate(383,92.7) scale(0.964,1)" font-size="74.4">x 10<tspan font-size="59.5" dy="-35.5">-10</tspan></text>
<text class="r" transform="translate(176.8,873) rotate(-90)" font-size="72" textLength="811" lengthAdjust="spacingAndGlyphs">Thermoelectric current (pA)</text>
</g>
<g id="bottom">
<text class="s" transform="translate(347.7,1698.5) scale(0.964,1)" font-size="74.4" text-anchor="start">(b)</text>
<line x1="555" y1="1003" x2="555" y2="1713" stroke="#E69F00" stroke-width="4"/>
<line x1="1943.5" y1="1003" x2="1943.5" y2="1713" stroke="#E69F00" stroke-width="5.1"/>
<path d="M331.6,1003V1026 M331.6,1713.5V1690 M744.2,1003V1026 M744.2,1713.5V1690 M1156.9,1003V1026 M1156.9,1713.5V1690 M1569.5,1003V1026 M1569.5,1713.5V1690 M1982.2,1003V1026 M1982.2,1713.5V1690 M2394.8,1003V1026 M2394.8,1713.5V1690 M331.6,1710.0H354 M2395,1710.0H2372.5 M331.6,1568.3H354 M2395,1568.3H2372.5 M331.6,1426.7H354 M2395,1426.7H2372.5 M331.6,1285.0H354 M2395,1285.0H2372.5 M331.6,1143.4H354 M2395,1143.4H2372.5 M331.6,1001.7H354 M2395,1001.7H2372.5" stroke="#000" stroke-width="2" fill="none"/>
<path d="M331.6,1570.9 L334.6,1544.6 L337.5,1518.3 L340.5,1492.1 L343.4,1466.1 L346.4,1440.3 L349.3,1414.8 L352.3,1389.6 L355.2,1364.7 L358.2,1340.3 L361.1,1316.4 L364.1,1293.0 L367.0,1270.2 L370.0,1248.0 L372.9,1226.5 L375.9,1205.7 L378.8,1185.8 L381.8,1166.7 L384.7,1148.4 L387.7,1131.2 L390.6,1115.0 L393.6,1099.8 L396.5,1085.7 L399.5,1072.8 L402.4,1061.1 L405.4,1050.7 L408.3,1041.6 L411.3,1033.9 L414.2,1027.7 L417.2,1022.9 L420.2,1019.5 L423.1,1017.4 L426.1,1016.7 L429.0,1017.1 L432.0,1018.7 L434.9,1021.3 L437.9,1024.9 L440.8,1029.5 L443.8,1034.9 L446.7,1041.0 L449.7,1048.0 L452.6,1055.5 L455.6,1063.7 L458.5,1072.3 L461.5,1081.4 L464.4,1090.8 L467.4,1100.6 L470.3,1110.6 L473.3,1120.8 L476.2,1131.0 L479.2,1141.3 L482.1,1151.5 L485.1,1161.6 L488.0,1171.5 L491.0,1181.2 L493.9,1190.5 L496.9,1199.5 L499.8,1208.0 L502.8,1216.1 L505.8,1223.9 L508.7,1231.3 L511.7,1238.5 L514.6,1245.4 L517.6,1252.2 L520.5,1258.8 L523.5,1265.3 L526.4,1271.8 L529.4,1278.3 L532.3,1284.8 L535.3,1291.4 L538.2,1298.2 L541.2,1305.1 L544.1,1312.3 L547.1,1319.7 L550.0,1327.5 L553.0,1335.6 L555.9,1344.2 L558.9,1353.1 L561.8,1362.3 L564.8,1371.7 L567.7,1381.1 L570.7,1390.4 L573.6,1399.6 L576.6,1408.3 L579.5,1416.7 L582.5,1424.5 L585.4,1431.7 L588.4,1438.4 L591.4,1444.7 L594.3,1450.4 L597.3,1455.8 L600.2,1460.7 L603.2,1465.2 L606.1,1469.3 L609.1,1473.1 L612.0,1476.6 L615.0,1479.8 L617.9,1482.7 L620.9,1485.3 L623.8,1487.8 L626.8,1490.0 L629.7,1492.1 L632.7,1494.0 L635.6,1495.7 L638.6,1497.4 L641.5,1499.0 L644.5,1500.5 L647.4,1502.0 L650.4,1503.5 L653.3,1505.0 L656.3,1506.5 L659.2,1508.1 L662.2,1509.8 L665.1,1511.6 L668.1,1513.5 L671.0,1515.4 L674.0,1517.5 L677.0,1519.7 L679.9,1521.9 L682.9,1524.2 L685.8,1526.6 L688.8,1529.1 L691.7,1531.6 L694.7,1534.1 L697.6,1536.7 L700.6,1539.4 L703.5,1542.1 L706.5,1544.8 L709.4,1547.5 L712.4,1550.3 L715.3,1553.0 L718.3,1555.8 L721.2,1558.6 L724.2,1561.4 L727.1,1564.1 L730.1,1566.9 L733.0,1569.6 L736.0,1572.4 L738.9,1575.1 L741.9,1577.7 L744.8,1580.3 L747.8,1582.9 L750.7,1585.4 L753.7,1587.9 L756.6,1590.3 L759.6,1592.7 L762.6,1595.1 L765.5,1597.4 L768.5,1599.6 L771.4,1601.8 L774.4,1604.0 L777.3,1606.1 L780.3,1608.2 L783.2,1610.3 L786.2,1612.3 L789.1,1614.2 L792.1,1616.2 L795.0,1618.0 L798.0,1619.9 L800.9,1621.6 L803.9,1623.4 L806.8,1625.1 L809.8,1626.7 L812.7,1628.4 L815.7,1629.9 L818.6,1631.5 L821.6,1633.0 L824.5,1634.4 L827.5,1635.8 L830.4,1637.2 L833.4,1638.5 L836.3,1639.8 L839.3,1641.1 L842.2,1642.3 L845.2,1643.5 L848.2,1644.7 L851.1,1645.9 L854.1,1647.0 L857.0,1648.1 L860.0,1649.2 L862.9,1650.3 L865.9,1651.3 L868.8,1652.4 L871.8,1653.4 L874.7,1654.5 L877.7,1655.5 L880.6,1656.5 L883.6,1657.5 L886.5,1658.5 L889.5,1659.4 L892.4,1660.4 L895.4,1661.3 L898.3,1662.2 L901.3,1663.1 L904.2,1663.9 L907.2,1664.7 L910.1,1665.5 L913.1,1666.3 L916.0,1667.0 L919.0,1667.7 L921.9,1668.4 L924.9,1669.0 L927.8,1669.6 L930.8,1670.2 L933.8,1670.8 L936.7,1671.3 L939.7,1671.8 L942.6,1672.3 L945.6,1672.8 L948.5,1673.2 L951.5,1673.6 L954.4,1674.0 L957.4,1674.4 L960.3,1674.8 L963.3,1675.1 L966.2,1675.5 L969.2,1675.8 L972.1,1676.1 L975.1,1676.4 L978.0,1676.6 L981.0,1676.9 L983.9,1677.1 L986.9,1677.3 L989.8,1677.6 L992.8,1677.8 L995.7,1678.0 L998.7,1678.1 L1001.6,1678.3 L1004.6,1678.5 L1007.5,1678.7 L1010.5,1678.8 L1013.4,1679.0 L1016.4,1679.2 L1019.4,1679.4 L1022.3,1679.5 L1025.3,1679.7 L1028.2,1679.9 L1031.2,1680.1 L1034.1,1680.3 L1037.1,1680.5 L1040.0,1680.7 L1043.0,1680.9 L1045.9,1681.2 L1048.9,1681.4 L1051.8,1681.7 L1054.8,1682.0 L1057.7,1682.4 L1060.7,1682.7 L1063.6,1683.1 L1066.6,1683.4 L1069.5,1683.9 L1072.5,1684.3 L1075.4,1684.8 L1078.4,1685.3 L1081.3,1685.8 L1084.3,1686.3 L1087.2,1686.9 L1090.2,1687.5 L1093.1,1688.1 L1096.1,1688.7 L1099.0,1689.4 L1102.0,1690.0 L1104.9,1690.7 L1107.9,1691.3 L1110.9,1692.0 L1113.8,1692.6 L1116.8,1693.3 L1119.7,1694.0 L1122.7,1694.6 L1125.6,1695.2 L1128.6,1695.9 L1131.5,1696.5 L1134.5,1697.1 L1137.4,1697.7 L1140.4,1698.2 L1143.3,1698.8 L1146.3,1699.3 L1149.2,1699.8 L1152.2,1700.2 L1155.1,1700.7 L1158.1,1701.1 L1161.0,1701.4 L1164.0,1701.7 L1166.9,1702.0 L1169.9,1702.3 L1172.8,1702.5 L1175.8,1702.7 L1178.7,1702.9 L1181.7,1703.0 L1184.6,1703.1 L1187.6,1703.2 L1190.5,1703.3 L1193.5,1703.3 L1196.5,1703.3 L1199.4,1703.3 L1202.4,1703.3 L1205.3,1703.3 L1208.3,1703.2 L1211.2,1703.1 L1214.2,1703.0 L1217.1,1702.9 L1220.1,1702.8 L1223.0,1702.7 L1226.0,1702.6 L1228.9,1702.4 L1231.9,1702.2 L1234.8,1702.1 L1237.8,1701.9 L1240.7,1701.7 L1243.7,1701.5 L1246.6,1701.3 L1249.6,1701.2 L1252.5,1701.0 L1255.5,1700.8 L1258.4,1700.6 L1261.4,1700.4 L1264.3,1700.2 L1267.3,1700.0 L1270.2,1699.8 L1273.2,1699.6 L1276.1,1699.5 L1279.1,1699.3 L1282.1,1699.1 L1285.0,1699.0 L1288.0,1698.8 L1290.9,1698.7 L1293.9,1698.6 L1296.8,1698.5 L1299.8,1698.4 L1302.7,1698.3 L1305.7,1698.2 L1308.6,1698.1 L1311.6,1698.1 L1314.5,1698.1 L1317.5,1698.1 L1320.4,1698.1 L1323.4,1698.1 L1326.3,1698.2 L1329.3,1698.2 L1332.2,1698.3 L1335.2,1698.4 L1338.1,1698.6 L1341.1,1698.7 L1344.0,1698.9 L1347.0,1699.0 L1349.9,1699.2 L1352.9,1699.4 L1355.8,1699.6 L1358.8,1699.8 L1361.7,1700.0 L1364.7,1700.2 L1367.7,1700.5 L1370.6,1700.7 L1373.6,1700.9 L1376.5,1701.2 L1379.5,1701.4 L1382.4,1701.6 L1385.4,1701.9 L1388.3,1702.1 L1391.3,1702.3 L1394.2,1702.6 L1397.2,1702.8 L1400.1,1703.0 L1403.1,1703.2 L1406.0,1703.4 L1409.0,1703.6 L1411.9,1703.8 L1414.9,1704.0 L1417.8,1704.1 L1420.8,1704.3 L1423.7,1704.4 L1426.7,1704.6 L1429.6,1704.7 L1432.6,1704.8 L1435.5,1705.0 L1438.5,1705.1 L1441.4,1705.2 L1444.4,1705.3 L1447.3,1705.4 L1450.3,1705.4 L1453.3,1705.5 L1456.2,1705.6 L1459.2,1705.6 L1462.1,1705.7 L1465.1,1705.7 L1468.0,1705.8 L1471.0,1705.8 L1473.9,1705.8 L1476.9,1705.8 L1479.8,1705.8 L1482.8,1705.8 L1485.7,1705.8 L1488.7,1705.8 L1491.6,1705.8 L1494.6,1705.7 L1497.5,1705.7 L1500.5,1705.7 L1503.4,1705.6 L1506.4,1705.6 L1509.3,1705.6 L1512.3,1705.5 L1515.2,1705.5 L1518.2,1705.5 L1521.1,1705.4 L1524.1,1705.4 L1527.0,1705.4 L1530.0,1705.4 L1532.9,1705.4 L1535.9,1705.4 L1538.9,1705.5 L1541.8,1705.5 L1544.8,1705.6 L1547.7,1705.6 L1550.7,1705.7 L1553.6,1705.8 L1556.6,1705.9 L1559.5,1706.1 L1562.5,1706.2 L1565.4,1706.4 L1568.4,1706.6 L1571.3,1706.8 L1574.3,1707.1 L1577.2,1707.3 L1580.2,1707.6 L1583.1,1707.9 L1586.1,1708.1 L1589.0,1708.4 L1592.0,1708.7 L1594.9,1708.9 L1597.9,1709.2 L1600.8,1709.4 L1603.8,1709.6 L1606.7,1709.8 L1609.7,1710.0 L1612.6,1710.1 L1615.6,1710.2 L1618.5,1710.3 L1621.5,1710.3 L1624.5,1710.3 L1627.4,1710.2 L1630.4,1710.1 L1633.3,1709.9 L1636.3,1709.6 L1639.2,1709.3 L1642.2,1708.9 L1645.1,1708.5 L1648.1,1707.9 L1651.0,1707.3 L1654.0,1706.6 L1656.9,1705.9 L1659.9,1705.1 L1662.8,1704.2 L1665.8,1703.3 L1668.7,1702.5 L1671.7,1701.7 L1674.6,1700.9 L1677.6,1700.1 L1680.5,1699.5 L1683.5,1698.9 L1686.4,1698.5 L1689.4,1698.2 L1692.3,1698.1 L1695.3,1698.1 L1698.2,1698.4 L1701.2,1698.9 L1704.1,1699.6 L1707.1,1700.5 L1710.1,1701.8 L1713.0,1703.3 L1716.0,1705.1 L1718.9,1707.3 L1721.9,1709.6 L1724.8,1711.5 L1727.8,1712.4 L1730.7,1711.6 L1733.7,1708.6 L1736.6,1702.8 L1739.6,1694.1 L1742.5,1682.7 L1745.5,1668.7 L1748.4,1652.4 L1751.4,1634.0 L1754.3,1613.6 L1757.3,1591.4 L1760.2,1567.7 L1763.2,1542.7 L1766.1,1516.4 L1769.1,1489.2 L1772.0,1461.2 L1775.0,1432.5 L1777.9,1403.5 L1780.9,1374.3 L1783.8,1345.0 L1786.8,1315.9 L1789.7,1287.2 L1792.7,1259.0 L1795.7,1231.6 L1798.6,1205.1 L1801.6,1179.7 L1804.5,1155.7 L1807.5,1133.2 L1810.4,1112.4 L1813.4,1093.5 L1816.3,1076.7 L1819.3,1062.2 L1822.2,1049.9 L1825.2,1039.8 L1828.1,1031.8 L1831.1,1025.8 L1834.0,1021.7 L1837.0,1019.3 L1839.9,1018.7 L1842.9,1019.6 L1845.8,1022.0 L1848.8,1025.8 L1851.7,1030.9 L1854.7,1037.2 L1857.6,1044.5 L1860.6,1052.9 L1863.5,1062.2 L1866.5,1072.3 L1869.4,1083.1 L1872.4,1094.5 L1875.3,1106.5 L1878.3,1118.8 L1881.3,1131.5 L1884.2,1144.3 L1887.2,1157.3 L1890.1,1170.3 L1893.1,1183.3 L1896.0,1196.1 L1899.0,1208.6 L1901.9,1220.7 L1904.9,1232.4 L1907.8,1243.8 L1910.8,1254.7 L1913.7,1265.3 L1916.7,1275.4 L1919.6,1285.2 L1922.6,1294.5 L1925.5,1303.5 L1928.5,1312.0 L1931.4,1320.2 L1934.4,1327.9 L1937.3,1335.2 L1940.3,1342.1 L1943.2,1348.6 L1946.2,1354.7 L1949.1,1360.5 L1952.1,1365.9 L1955.0,1370.9 L1958.0,1375.7 L1960.9,1380.1 L1963.9,1384.3 L1966.9,1388.3 L1969.8,1392.0 L1972.8,1395.6 L1975.7,1399.0 L1978.7,1402.2 L1981.6,1405.3 L1984.6,1408.3 L1987.5,1411.2 L1990.5,1414.0 L1993.4,1416.7 L1996.4,1419.4 L1999.3,1422.0 L2002.3,1424.5 L2005.2,1427.1 L2008.2,1429.5 L2011.1,1432.0 L2014.1,1434.4 L2017.0,1436.9 L2020.0,1439.3 L2022.9,1441.7 L2025.9,1444.2 L2028.8,1446.7 L2031.8,1449.2 L2034.7,1451.8 L2037.7,1454.4 L2040.6,1457.1 L2043.6,1459.9 L2046.5,1462.8 L2049.5,1465.7 L2052.5,1468.8 L2055.4,1471.9 L2058.4,1475.2 L2061.3,1478.6 L2064.3,1482.1 L2067.2,1485.8 L2070.2,1489.6 L2073.1,1493.5 L2076.1,1497.6 L2079.0,1501.8 L2082.0,1506.0 L2084.9,1510.4 L2087.9,1514.8 L2090.8,1519.3 L2093.8,1523.8 L2096.7,1528.4 L2099.7,1533.0 L2102.6,1537.6 L2105.6,1542.3 L2108.5,1546.9 L2111.5,1551.6 L2114.4,1556.2 L2117.4,1560.8 L2120.3,1565.4 L2123.3,1569.9 L2126.2,1574.4 L2129.2,1578.8 L2132.1,1583.1 L2135.1,1587.3 L2138.1,1591.4 L2141.0,1595.4 L2144.0,1599.3 L2146.9,1603.1 L2149.9,1606.7 L2152.8,1610.2 L2155.8,1613.5 L2158.7,1616.7 L2161.7,1619.8 L2164.6,1622.8 L2167.6,1625.6 L2170.5,1628.4 L2173.5,1631.0 L2176.4,1633.5 L2179.4,1635.9 L2182.3,1638.3 L2185.3,1640.5 L2188.2,1642.6 L2191.2,1644.7 L2194.1,1646.7 L2197.1,1648.6 L2200.0,1650.4 L2203.0,1652.2 L2205.9,1653.9 L2208.9,1655.5 L2211.8,1657.1 L2214.8,1658.6 L2217.7,1660.1 L2220.7,1661.6 L2223.7,1663.0 L2226.6,1664.4 L2229.6,1665.7 L2232.5,1667.0 L2235.5,1668.3 L2238.4,1669.6 L2241.4,1670.8 L2244.3,1672.0 L2247.3,1673.2 L2250.2,1674.4 L2253.2,1675.5 L2256.1,1676.6 L2259.1,1677.7 L2262.0,1678.8 L2265.0,1679.8 L2267.9,1680.8 L2270.9,1681.8 L2273.8,1682.8 L2276.8,1683.7 L2279.7,1684.6 L2282.7,1685.5 L2285.6,1686.4 L2288.6,1687.2 L2291.5,1688.0 L2294.5,1688.8 L2297.4,1689.5 L2300.4,1690.3 L2303.3,1691.0 L2306.3,1691.7 L2309.3,1692.3 L2312.2,1693.0 L2315.2,1693.6 L2318.1,1694.2 L2321.1,1694.7 L2324.0,1695.3 L2327.0,1695.8 L2329.9,1696.3 L2332.9,1696.8 L2335.8,1697.3 L2338.8,1697.7 L2341.7,1698.1 L2344.7,1698.5 L2347.6,1698.9 L2350.6,1699.3 L2353.5,1699.7 L2356.5,1700.1 L2359.4,1700.4 L2362.4,1700.7 L2365.3,1701.1 L2368.3,1701.4 L2371.2,1701.7 L2374.2,1702.0 L2377.1,1702.3 L2380.1,1702.6 L2383.0,1702.9 L2386.0,1703.2 L2388.9,1703.4 L2391.9,1703.7 L2394.8,1704.0" fill="none" stroke="#56B4E9" stroke-width="6.3" stroke-linejoin="round"/>
<g fill="#56B4E9"><circle cx="331.6" cy="1570.9" r="11.7"/><circle cx="414.1" cy="1027.9" r="11.7"/><circle cx="496.7" cy="1198.8" r="11.7"/><circle cx="555.1" cy="1341.7" r="11.7"/><circle cx="579.2" cy="1415.7" r="11.7"/><circle cx="661.7" cy="1509.5" r="11.7"/><circle cx="744.2" cy="1579.8" r="11.7"/><circle cx="826.8" cy="1635.5" r="11.7"/><circle cx="868.9" cy="1652.4" r="11.7"/><circle cx="909.3" cy="1665.3" r="11.7"/><circle cx="991.8" cy="1677.7" r="11.7"/><circle cx="1074.4" cy="1684.6" r="11.7"/><circle cx="1156.9" cy="1700.9" r="11.7"/><circle cx="1239.4" cy="1701.8" r="11.7"/><circle cx="1322.0" cy="1698.1" r="11.7"/><circle cx="1404.5" cy="1703.3" r="11.7"/><circle cx="1487.0" cy="1705.8" r="11.7"/><circle cx="1553.0" cy="1705.8" r="11.7"/><circle cx="1569.5" cy="1706.7" r="11.7"/><circle cx="1652.1" cy="1707.1" r="11.7"/><circle cx="1718.1" cy="1706.7" r="11.7"/><circle cx="1734.6" cy="1707.1" r="11.7"/><circle cx="1817.1" cy="1072.4" r="11.7"/><circle cx="1899.7" cy="1211.5" r="11.7"/><circle cx="1940.9" cy="1343.6" r="11.7"/><circle cx="1982.2" cy="1405.9" r="11.7"/><circle cx="2064.7" cy="1482.7" r="11.7"/><circle cx="2147.3" cy="1603.5" r="11.7"/><circle cx="2229.8" cy="1665.8" r="11.7"/><circle cx="2312.3" cy="1693.0" r="11.7"/><circle cx="2394.8" cy="1704.0" r="11.7"/></g>
<path d="M329,1000H2397V1716H329Z M334,1005H2393V1711H334Z" fill="#000" fill-rule="evenodd"/>
<text class="s" transform="translate(289.3,1735.4) scale(0.964,1)" font-size="74.4" text-anchor="end">0</text>
<text class="s" transform="translate(289.3,1593.7) scale(0.964,1)" font-size="74.4" text-anchor="end">0.2</text>
<text class="s" transform="translate(289.3,1452.1) scale(0.964,1)" font-size="74.4" text-anchor="end">0.4</text>
<text class="s" transform="translate(289.3,1310.4) scale(0.964,1)" font-size="74.4" text-anchor="end">0.6</text>
<text class="s" transform="translate(289.3,1168.8) scale(0.964,1)" font-size="74.4" text-anchor="end">0.8</text>
<text clip-path="url(#k18)" class="s" transform="translate(289.3,1027.1) scale(0.964,1)" font-size="74.4" text-anchor="end">1</text>
<text class="s" transform="translate(341.6,1809.0) scale(0.964,1)" font-size="74.4" text-anchor="middle">0</text>
<text class="s" transform="translate(754.2,1809.0) scale(0.964,1)" font-size="74.4" text-anchor="middle">0.5</text>
<text clip-path="url(#k21)" class="s" transform="translate(1167.8,1809.0) scale(0.964,1)" font-size="74.4" text-anchor="middle">1</text>
<text clip-path="url(#k22)" class="s" transform="translate(1579.5,1809.0) scale(0.964,1)" font-size="74.4" text-anchor="middle">1.5</text>
<text class="s" transform="translate(1992.2,1809.0) scale(0.964,1)" font-size="74.4" text-anchor="middle">2</text>
<text class="s" transform="translate(2404.8,1809.0) scale(0.964,1)" font-size="74.4" text-anchor="middle">2.5</text>
<text class="r" transform="translate(69.7,1562.5) rotate(-90)" font-size="72">Occupation (e)</text>
<text class="r" x="1236.3" y="1908.5" font-size="72">V<tspan font-size="57.6" dy="22">p</tspan><tspan dy="-22"> (mV)</tspan></text>
</g>
</svg></body></html>
